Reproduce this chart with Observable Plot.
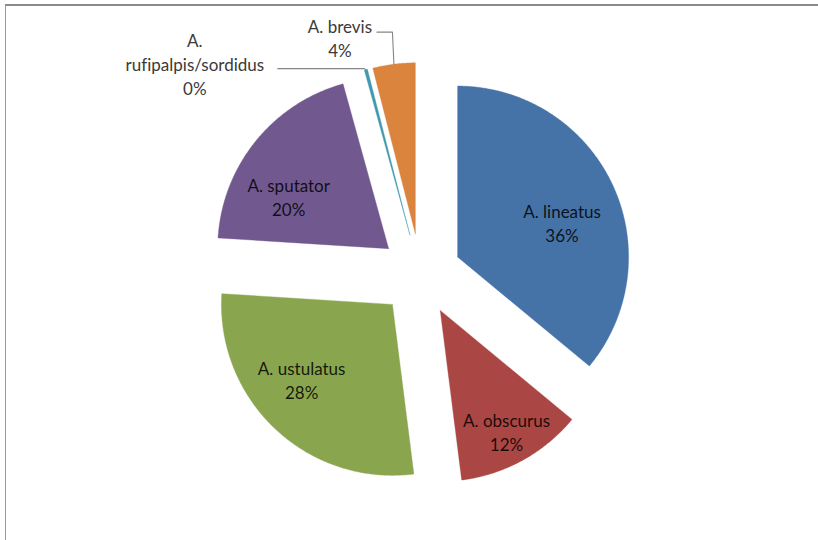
<!DOCTYPE html>
<html>
<head>
<meta charset="utf-8">
<script src="https://cdn.jsdelivr.net/npm/d3@7"></script>
<script src="https://cdn.jsdelivr.net/npm/@observablehq/plot@0.6"></script>
<style>
  html, body { margin: 0; padding: 0; background: #ffffff; }
  #wrap { position: relative; width: 818px; height: 540px; overflow: hidden; }
  #wrap svg { position: absolute; left: 0; top: 0; font-variant-ligatures: none; }
  #border { position: absolute; left: 5px; top: 4px; width: 830px; height: 534px;
            border-top: 2px solid #8a8a8a; border-left: 1px solid #9a9a9a;
            border-bottom: 1px solid #b5b5b5; pointer-events: none; }
</style>
</head>
<body>
<div id="wrap"><div id="border"></div></div>
<script>
// ---- data ----
const species = ["A. lineatus", "A. obscurus", "A. ustulatus", "A. sputator", "A. rufipalpis/sordidus", "A. brevis"];
const labelNames = ["A. lineatus", "A. obscurus", "A. ustulatus", "A. sputator", "A.\nrufipalpis/sordidus", "A. brevis"];
const shares = [36, 12, 28, 19.7, 0.3, 4];
const colors = ["#4572A7", "#AA4643", "#89A54E", "#71588F", "#4198AF", "#DB843D"];

// ---- layout ----
const W = 818, H = 540;
const cx = 420, cy = 274, R = 171, EXPLODE = 41;
const FONT = "Lato, 'Open Sans', sans-serif";
const deg = Math.PI / 180;
// label placement: inside labels in polar terms from the slice vertex
const insidePlace = {
  0: {turn: 6.9, dist: 110},
  1: {turn: 0.1, dist: 138},
  2: {turn: 7.1, dist: 118},
  3: {turn: -11.3, dist: 113}
};
// outside labels relative to the slice's outer arc midpoint
const outsidePlace = {
  4: {dx: -171, dy: -6, leadY: -1, leadX: -88},
  5: {dx: -54, dy: -27, leadY: -32, leadX: -17}
};

const total = d3.sum(shares);
const pct = d3.format(".0%");
const arcs = d3.pie().sort(null).value(d => d)(shares);
const polar = (ox, oy, a, rho) => [ox + rho * Math.sin(a), oy - rho * Math.cos(a)];

const slicePoints = [];
const insideLabels = [];
const outsideLabels = [];
const leaders = [];

arcs.forEach((arc, i) => {
  const s = arc.startAngle, e = arc.endAngle, mid = (s + e) / 2;
  const [vx, vy] = polar(cx, cy, mid, EXPLODE);
  const n = Math.max(2, Math.ceil((e - s) / (Math.PI / 360)));
  slicePoints.push({name: species[i], x: vx, y: vy});
  for (let k = 0; k <= n; k++) {
    const a = s + (e - s) * k / n;
    const [x, y] = polar(vx, vy, a, R);
    slicePoints.push({name: species[i], x, y});
  }
  slicePoints.push({name: species[i], x: vx, y: vy});
  const text = labelNames[i] + "\n" + pct(shares[i] / total);
  if (insidePlace[i]) {
    const p = insidePlace[i];
    const [x, y] = polar(vx, vy, mid + p.turn * deg, p.dist);
    insideLabels.push({x, y, text});
  } else {
    const p = outsidePlace[i];
    const [ox, oy] = polar(vx, vy, mid, R);
    outsideLabels.push({x: ox + p.dx, y: oy + p.dy, text});
    leaders.push({name: species[i], x: ox + p.leadX, y: oy + p.leadY});
    leaders.push({name: species[i], x: ox - 1.5, y: oy + p.leadY});
    leaders.push({name: species[i], x: ox, y: oy});
  }
});

const sliceMarks = species.map((name, i) =>
  Plot.line(slicePoints.filter(d => d.name === name), {
    x: "x", y: "y", fill: colors[i], stroke: colors[i], strokeWidth: 0.6, strokeOpacity: 0.6
  })
);

const chart = Plot.plot({
  width: W,
  height: H,
  margin: 0,
  x: {domain: [0, W], range: [0, W], axis: null},
  y: {domain: [0, H], range: [0, H], axis: null},
  style: {background: "transparent", fontFamily: FONT},
  marks: [
    ...sliceMarks,
    Plot.line(leaders, {x: "x", y: "y", z: "name", stroke: "#858585", strokeWidth: 1.1}),
    Plot.text(insideLabels, {
      x: "x", y: "y", text: "text", fontSize: 17, lineHeight: 1.41,
      fill: "#000000", fillOpacity: 0.85, fontFamily: FONT
    }),
    Plot.text(outsideLabels, {
      x: "x", y: "y", text: "text", fontSize: 17, lineHeight: 1.41,
      fill: "#3a3a3a", fontFamily: FONT
    })
  ]
});

document.getElementById("wrap").prepend(chart);
</script>
</body>
</html>
